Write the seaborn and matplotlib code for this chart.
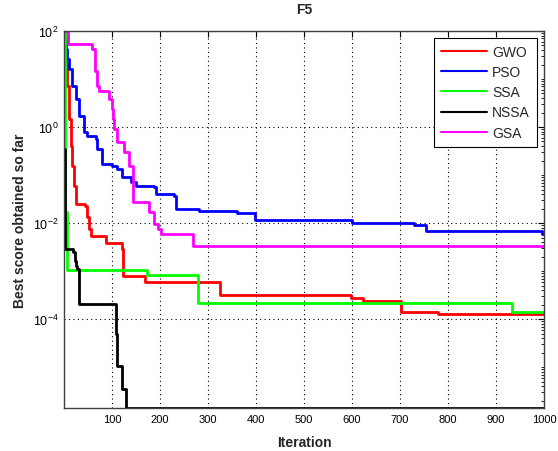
import numpy as np
import pandas as pd
import matplotlib
matplotlib.use("Agg")
import matplotlib.pyplot as plt
import seaborn as sns
from matplotlib.ticker import LogLocator, FixedLocator, NullFormatter

# ---- data ----
algorithms = ["GWO", "PSO", "SSA", "NSSA", "GSA"]
colors = ["#ff0000", "#0000ff", "#00ff00", "#000000", "#ff00ff"]

gwo_iter = [1, 2, 5, 7, 11, 15, 17, 21, 25, 44, 48, 53, 57, 88, 121, 122, 169, 324, 597, 623, 702, 779, 1000]
gwo_val = [95, 60, 22, 7, 1.5, 0.4, 0.155, 0.059, 0.025, 0.0224, 0.0133, 0.0075, 0.0054, 0.0038,
           0.0029, 0.00079, 0.00059, 0.000316, 0.000275, 0.000237, 0.000141, 0.000126, 0.000126]

pso_iter = [1, 5, 7, 11, 17, 25, 32, 42, 48, 67, 69, 80, 101, 111, 121, 140, 151, 188, 192, 230, 234,
            282, 360, 397, 600, 729, 754, 996, 1000]
pso_val = [68, 42, 26, 16, 7, 3.8, 1.7, 0.79, 0.65, 0.56, 0.35, 0.17, 0.155, 0.133, 0.091, 0.071, 0.059,
           0.056, 0.040, 0.036, 0.0195, 0.0178, 0.0162, 0.0115, 0.0100, 0.0091, 0.0068, 0.0059, 0.0059]

ssa_iter = [1, 2, 3, 7, 172, 279, 934, 1000]
ssa_val = [100, 2.0, 0.017, 0.00105, 0.00083, 0.00022, 0.00014, 0.00014]

nssa_iter = [1, 3, 19, 22, 25, 28, 32, 109, 111, 121, 130, 1000]
nssa_val = [0.35, 0.0029, 0.0025, 0.0016, 0.00126, 0.0011, 0.00021, 4.9e-5, 1.05e-5, 3.5e-6, 1.41e-6, 1.41e-6]

gsa_iter = [1, 9, 57, 59, 65, 69, 73, 94, 99, 102, 105, 111, 126, 136, 143, 144, 178, 188, 195, 203, 268, 1000]
gsa_val = [100, 54, 54, 42, 15, 7, 5.6, 3.8, 2.4, 1.5, 0.9, 0.49, 0.30, 0.155, 0.071, 0.0275, 0.017,
           0.0095, 0.0075, 0.0059, 0.0033, 0.0033]

x_ticks = [100, 200, 300, 400, 500, 600, 700, 800, 900, 1000]
y_ticks = [1e-4, 1e-2, 1e0, 1e2]
y_tick_labels = [r"$10^{-4}$", r"$10^{-2}$", r"$10^{0}$", r"$10^{2}$"]

frames = []
for name, it, v in zip(algorithms,
                       [gwo_iter, pso_iter, ssa_iter, nssa_iter, gsa_iter],
                       [gwo_val, pso_val, ssa_val, nssa_val, gsa_val]):
    frames.append(pd.DataFrame({"Iteration": it, "Score": v, "Algorithm": name}))
df = pd.concat(frames, ignore_index=True)

sns.set_style("white")
plt.rcParams["font.family"] = ["Liberation Sans", "DejaVu Sans"]
plt.rcParams["mathtext.default"] = "regular"

fig = plt.figure(figsize=(5.58, 4.52), dpi=100)
ax = fig.add_axes([64 / 558, 1 - 409 / 452, 480 / 558, 377 / 452])

sns.lineplot(data=df, x="Iteration", y="Score", hue="Algorithm", hue_order=algorithms,
             palette=dict(zip(algorithms, colors)), drawstyle="steps-post", linewidth=2,
             estimator=None, sort=False, legend=False, ax=ax)

ax.set_yscale("log")
ax.set_xlim(0, 1000)
ax.set_ylim(1.41e-6, 100)
ax.xaxis.set_major_locator(FixedLocator(x_ticks))
ax.set_xticklabels([str(t) for t in x_ticks])
ax.yaxis.set_major_locator(FixedLocator(y_ticks))
ax.set_yticklabels(y_tick_labels)
ax.yaxis.set_minor_locator(LogLocator(base=10, subs=np.arange(1, 10), numticks=50))
ax.yaxis.set_minor_formatter(NullFormatter())

ax.grid(True, which="major", linestyle=(0, (1, 3)), color="black", linewidth=0.8)
ax.tick_params(which="both", direction="in", top=True, right=True, colors="black")
ax.tick_params(axis="x", which="major", labelsize=8)
ax.tick_params(axis="y", which="major", labelsize=9)
ax.tick_params(which="major", length=4, width=0.8, pad=4)
ax.tick_params(which="minor", length=2, width=0.6)
for s in ax.spines.values():
    s.set_color("#404040")
    s.set_linewidth(1.0)

ax.set_xlabel("Iteration", fontsize=10, fontweight="bold", labelpad=8)
ax.set_ylabel("Best score obtained so far", fontsize=10, fontweight="bold", labelpad=4)
ax.set_title("F5", fontsize=10, fontweight="bold", pad=13)

handles = [plt.Line2D([], [], color=c, linewidth=1.5) for c in colors]
leg = ax.legend(handles, algorithms, loc="upper right", bbox_to_anchor=(0.985, 0.982),
                borderaxespad=0, fontsize=10, frameon=True, fancybox=False, framealpha=1,
                edgecolor="black", handlelength=3.3, handletextpad=0.35, labelspacing=0.45,
                borderpad=0.5)
leg.get_frame().set_linewidth(0.8)

fig.savefig("out.png", dpi=100)
